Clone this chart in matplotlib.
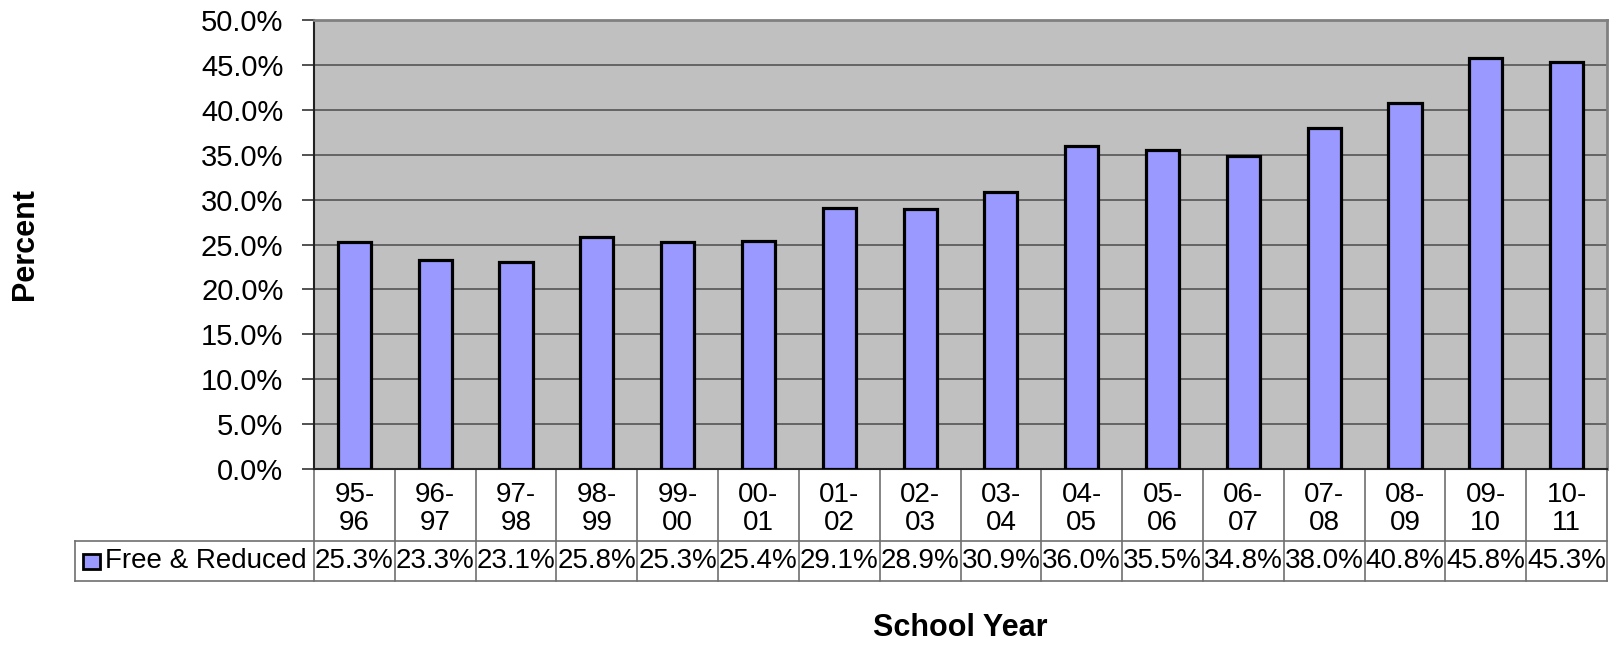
import matplotlib
matplotlib.use("Agg")
import matplotlib.pyplot as plt
from matplotlib.patches import Rectangle
from matplotlib.transforms import blended_transform_factory

plt.rcParams['font.family'] = ['Liberation Sans', 'DejaVu Sans']

years = ["95-\n96", "96-\n97", "97-\n98", "98-\n99", "99-\n00", "00-\n01",
         "01-\n02", "02-\n03", "03-\n04", "04-\n05", "05-\n06", "06-\n07",
         "07-\n08", "08-\n09", "09-\n10", "10-\n11"]
free_reduced = [25.3, 23.3, 23.1, 25.8, 25.3, 25.4, 29.1, 28.9, 30.9,
                36.0, 35.5, 34.8, 38.0, 40.8, 45.8, 45.3]
series_name = "Free & Reduced"
y_ticks = [0, 5, 10, 15, 20, 25, 30, 35, 40, 45, 50]

W, H = 1613, 646
fig = plt.figure(figsize=(W / 100, H / 100), dpi=100)
left, right, top, bottom = 314, 1607, 20, 469
ax = fig.add_axes([left / W, 1 - bottom / H, (right - left) / W, (bottom - top) / H])

bar_color = "#9999FF"
ax.set_facecolor("#C0C0C0")
x = list(range(len(years)))
ax.bar(x, free_reduced, width=0.41, color=bar_color, edgecolor="black",
       linewidth=2.3, zorder=3)

ax.set_xlim(-0.5, len(years) - 0.5)
ax.set_ylim(0, 50)
ax.set_yticks(y_ticks)
ax.set_yticklabels([f"{v:.1f}%" for v in y_ticks], fontsize=21)
ax.set_xticks([])
ax.yaxis.grid(True, color="#555555", linewidth=1.2, zorder=1)
ax.set_axisbelow(True)
ax.tick_params(axis="y", length=9, width=1.2, color="#333333", pad=13)

for s in ["top", "right"]:
    ax.spines[s].set_color("#808080")
    ax.spines[s].set_linewidth(2)
ax.spines["left"].set_color("#222222")
ax.spines["left"].set_linewidth(1.5)
ax.spines["bottom"].set_color("#222222")
ax.spines["bottom"].set_linewidth(1.5)

# data table below the axes
trans = blended_transform_factory(ax.transData, ax.transAxes)
ph = bottom - top
row1 = -(541 - bottom) / ph
row2 = -(581 - bottom) / ph
unit = (right - left) / len(years)
leg_left = -0.5 - (left - 75) / unit
grid_kw = dict(color="#707070", linewidth=1.2, transform=trans, clip_on=False)

for i in range(len(years) + 1):
    xe = i - 0.5
    ax.plot([xe, xe], [0, row2], **grid_kw)
ax.plot([leg_left, len(years) - 0.5], [row1, row1], **grid_kw)
ax.plot([leg_left, len(years) - 0.5], [row2, row2], **grid_kw)
ax.plot([leg_left, leg_left], [row1, row2], **grid_kw)

cat_y = row1 / 2 - 4 / ph
for i, (lab, v) in enumerate(zip(years, free_reduced)):
    ax.text(i, cat_y, lab, transform=trans, ha="center", va="center",
            fontsize=20, linespacing=1.15, clip_on=False)
    ax.text(i, (row1 + row2) / 2, f"{v:.1f}%", transform=trans, ha="center",
            va="center", fontsize=20, clip_on=False)

# legend key inside the table
key_w = 17 / unit
key_h = 15 / ph
kx = leg_left + 8 / unit
ky = (row1 + row2) / 2 - key_h / 2
ax.add_patch(Rectangle((kx, ky), key_w, key_h, facecolor=bar_color,
                       edgecolor="black", linewidth=2, transform=trans,
                       clip_on=False))
ax.text(leg_left + 30 / unit, (row1 + row2) / 2, series_name, transform=trans,
        ha="left", va="center", fontsize=20, clip_on=False)

fig.text(25 / W, 1 - (top + bottom) / 2 / H, "Percent", rotation=90,
         ha="center", va="center", fontsize=22, fontweight="bold")
fig.text((left + right) / 2 / W, 1 - 628 / H, "School Year", ha="center",
         va="center", fontsize=22, fontweight="bold")

fig.savefig("out.png", dpi=100, facecolor="white")
